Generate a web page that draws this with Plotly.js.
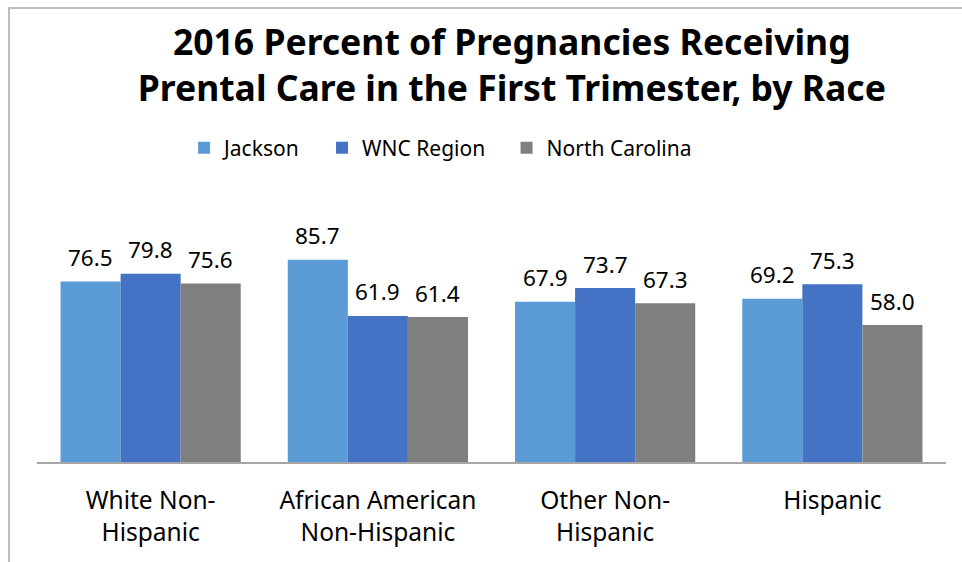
<!DOCTYPE html>
<html><head><meta charset="utf-8">
<script src="https://cdn.plot.ly/plotly-3.0.1.min.js"></script>
<style>
html,body{margin:0;padding:0;background:#fff;}
#wrap{position:relative;width:962px;height:562px;overflow:hidden;}
#chart{position:absolute;left:0;top:0;width:962px;height:562px;}
#border{position:absolute;left:8px;top:7px;width:980px;height:600px;border:2px solid #bdbdbd;pointer-events:none;box-sizing:border-box;}
</style></head>
<body>
<div id="wrap"><div id="chart"></div><div id="border"></div></div>
<script>
const categories = ["White Non-<br>Hispanic", "African American<br>Non-Hispanic", "Other Non-<br>Hispanic", "Hispanic"];
const jackson = [76.5, 85.7, 67.9, 69.2];
const wnc = [79.8, 61.9, 73.7, 75.3];
const nc = [75.6, 61.4, 67.3, 58.0];
const seriesNames = ["Jackson", "WNC Region", "North Carolina"];
const colors = ["#5B9BD5", "#4472C4", "#7F7F7F"];

const font = "'Noto Sans', 'Open Sans', sans-serif";
const seriesVals = [jackson, wnc, nc];
const barWidthPx = 60;
const data = seriesVals.map((vals, i) => ({
  type: "bar", x: categories, y: vals,
  name: seriesNames[i] + (i < 2 ? "\u00a0\u00a0\u00a0" : ""),
  marker: {color: colors[i]},
  hoverinfo: "none"
}));

const annotations = [];
seriesVals.forEach((vals, i) => {
  vals.forEach((v, j) => {
    annotations.push({
      x: categories[j], y: v, xref: "x", yref: "y",
      text: v.toFixed(1), showarrow: false,
      xanchor: "center", yanchor: "middle",
      xshift: (i - 1) * barWidthPx, yshift: 24,
      font: {family: font, size: 22.5, color: "#000"}
    });
  });
});

const layout = {
  width: 962, height: 562,
  margin: {l: 37, r: 16, t: 226, b: 100},
  paper_bgcolor: "#fff", plot_bgcolor: "#fff",
  barmode: "group", bargap: 0.207, bargroupgap: 0,
  title: {text: "<b>2016 Percent of Pregnancies Receiving<br>Prental Care in the First Trimester, by Race</b>",
    font: {family: font, size: 35.5, color: "#000"}, x: 0.532, xanchor: "center", y: 0.9022, yanchor: "middle"},
  showlegend: true,
  legend: {orientation: "h", x: 0.444, xanchor: "center", y: 1.33, yanchor: "middle",
    font: {family: font, size: 21, color: "#000"}, itemwidth: 30, tracegroupgap: 0},
  annotations: annotations,
  xaxis: {showline: true, linecolor: "#a6a6a6", linewidth: 2, ticks: "", ticklabelstandoff: 16,
    tickfont: {family: font, size: 24.5, color: "#000"}, fixedrange: true},
  yaxis: {range: [0, 100], visible: false, showgrid: false, zeroline: false, fixedrange: true},
};
Plotly.newPlot("chart", data, layout, {displayModeBar: false, staticPlot: true});
</script>
</body></html>
